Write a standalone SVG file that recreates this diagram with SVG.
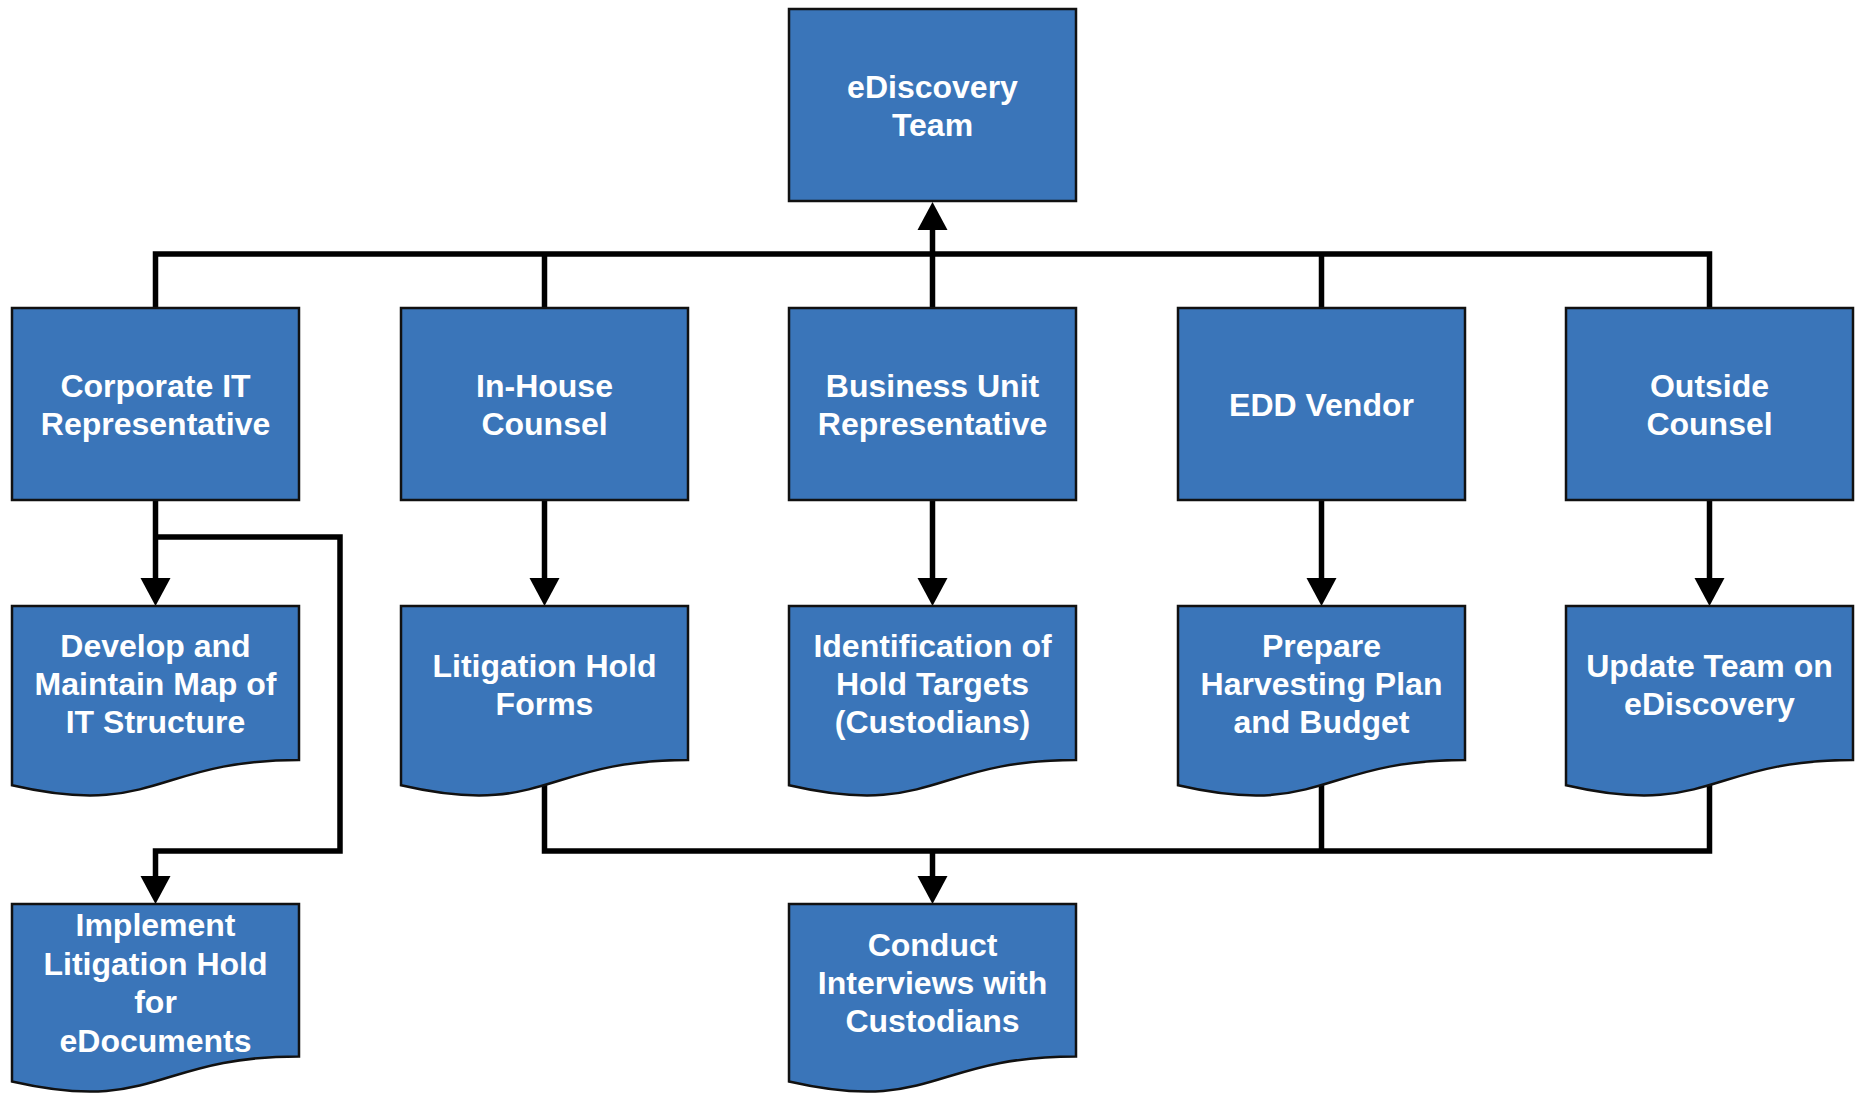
<svg xmlns="http://www.w3.org/2000/svg" width="1858" height="1094" viewBox="0 0 1858 1094">
  <style>
    .box { fill: #3a75b9; stroke: #111; stroke-width: 2.5; }
    .lbl { fill: #fff; font-family: "Liberation Sans", Arial, sans-serif; font-weight: bold; font-size: 32px; text-anchor: middle; }
    .wire { fill: none; stroke: #000; stroke-width: 5.5; stroke-linejoin: miter; }
  </style>
  <defs>
    <marker id="head" markerUnits="userSpaceOnUse" markerWidth="30" markerHeight="32" refX="0" refY="15" orient="auto" overflow="visible">
      <path d="M0,0 L28,15 L0,30 Z" fill="#000"/>
    </marker>
  </defs>
  <rect width="1858" height="1094" fill="#fff"/>

  <!-- connectors -->
  <g id="connectors">
    <!-- roles up to the team -->
    <path class="wire" d="M155.5,308 V254 H1709.5 V308"/>
    <path class="wire" d="M544.5,308 V254"/>
    <path class="wire" d="M1321.5,308 V254"/>
    <path class="wire" d="M932.5,308 V230" marker-end="url(#head)"/>
    <!-- roles down to tasks -->
    <path class="wire" d="M155.5,500 V578" marker-end="url(#head)"/>
    <path class="wire" d="M153,537 H340 V851 H155.5 V876" marker-end="url(#head)"/>
    <path class="wire" d="M544.5,500 V578" marker-end="url(#head)"/>
    <path class="wire" d="M932.5,500 V578" marker-end="url(#head)"/>
    <path class="wire" d="M1321.5,500 V578" marker-end="url(#head)"/>
    <path class="wire" d="M1709.5,500 V578" marker-end="url(#head)"/>
    <!-- tasks into custodian interviews -->
    <path class="wire" d="M544.5,780 V851 H1709.5 V770"/>
    <path class="wire" d="M1321.5,780 V851"/>
    <path class="wire" d="M932.5,851 V876" marker-end="url(#head)"/>
  </g>

  <!-- top -->
  <g id="ediscovery-team">
    <rect class="box" x="789" y="9" width="287" height="192"/>
    <text class="lbl" x="932.5" y="97.8">eDiscovery</text>
    <text class="lbl" x="932.5" y="136.2">Team</text>
  </g>

  <!-- roles -->
  <g id="corporate-it">
    <rect class="box" x="12" y="308" width="287" height="192"/>
    <text class="lbl" x="155.5" y="396.8">Corporate IT</text>
    <text class="lbl" x="155.5" y="435.2">Representative</text>
  </g>
  <g id="in-house-counsel">
    <rect class="box" x="401" y="308" width="287" height="192"/>
    <text class="lbl" x="544.5" y="396.8">In-House</text>
    <text class="lbl" x="544.5" y="435.2">Counsel</text>
  </g>
  <g id="business-unit">
    <rect class="box" x="789" y="308" width="287" height="192"/>
    <text class="lbl" x="932.5" y="396.8">Business Unit</text>
    <text class="lbl" x="932.5" y="435.2">Representative</text>
  </g>
  <g id="edd-vendor">
    <rect class="box" x="1178" y="308" width="287" height="192"/>
    <text class="lbl" x="1321.5" y="416">EDD Vendor</text>
  </g>
  <g id="outside-counsel">
    <rect class="box" x="1566" y="308" width="287" height="192"/>
    <text class="lbl" x="1709.5" y="396.8">Outside</text>
    <text class="lbl" x="1709.5" y="435.2">Counsel</text>
  </g>

  <!-- task documents -->
  <g id="it-map">
    <path class="box" d="M12,606 H299 V760 C155.5,760 155.5,818.6 12,785.3 Z"/>
    <text class="lbl" x="155.5" y="656.6">Develop and</text>
    <text class="lbl" x="155.5" y="695">Maintain Map of</text>
    <text class="lbl" x="155.5" y="733.4">IT Structure</text>
  </g>
  <g id="hold-forms">
    <path class="box" d="M401,606 H688 V760 C544.5,760 544.5,818.6 401,785.3 Z"/>
    <text class="lbl" x="544.5" y="676.8">Litigation Hold</text>
    <text class="lbl" x="544.5" y="715.2">Forms</text>
  </g>
  <g id="hold-targets">
    <path class="box" d="M789,606 H1076 V760 C932.5,760 932.5,818.6 789,785.3 Z"/>
    <text class="lbl" x="932.5" y="656.6">Identification of</text>
    <text class="lbl" x="932.5" y="695">Hold Targets</text>
    <text class="lbl" x="932.5" y="733.4">(Custodians)</text>
  </g>
  <g id="harvesting-plan">
    <path class="box" d="M1178,606 H1465 V760 C1321.5,760 1321.5,818.6 1178,785.3 Z"/>
    <text class="lbl" x="1321.5" y="656.6">Prepare</text>
    <text class="lbl" x="1321.5" y="695">Harvesting Plan</text>
    <text class="lbl" x="1321.5" y="733.4">and Budget</text>
  </g>
  <g id="update-team">
    <path class="box" d="M1566,606 H1853 V760 C1709.5,760 1709.5,818.6 1566,785.3 Z"/>
    <text class="lbl" x="1709.5" y="676.8">Update Team on</text>
    <text class="lbl" x="1709.5" y="715.2">eDiscovery</text>
  </g>

  <!-- follow-up documents -->
  <g id="implement-hold">
    <path class="box" d="M12,904 H299 V1056.4 C155.5,1056.4 155.5,1114.4 12,1081.5 Z"/>
    <text class="lbl" x="155.5" y="936.4">Implement</text>
    <text class="lbl" x="155.5" y="974.8">Litigation Hold</text>
    <text class="lbl" x="155.5" y="1013.2">for</text>
    <text class="lbl" x="155.5" y="1051.6">eDocuments</text>
  </g>
  <g id="custodian-interviews">
    <path class="box" d="M789,904 H1076 V1056.4 C932.5,1056.4 932.5,1114.4 789,1081.5 Z"/>
    <text class="lbl" x="932.5" y="955.6">Conduct</text>
    <text class="lbl" x="932.5" y="994">Interviews with</text>
    <text class="lbl" x="932.5" y="1032.4">Custodians</text>
  </g>
</svg>
